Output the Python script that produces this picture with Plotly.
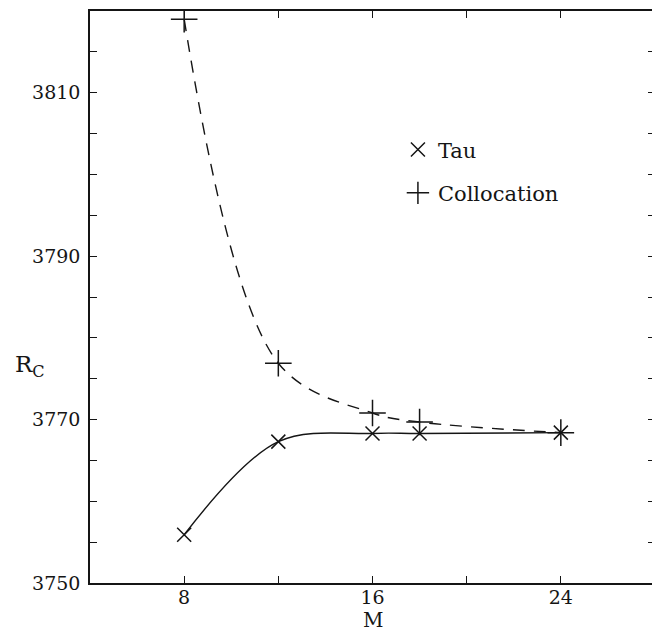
import plotly.graph_objects as go

M = [8, 12, 16, 18, 24]
tau = [3755.9, 3767.3, 3768.3, 3768.3, 3768.4]
colloc = [3819.0, 3776.9, 3770.8, 3769.7, 3768.4]

x_ticks = [8, 16, 24]
x_labels = ["8", "16", "24"]
y_ticks = [3750, 3770, 3790, 3810]
y_labels = ["3750", "3770", "3790", "3810"]

FONT = "DejaVu Serif"
INK = "#151515"

fig = go.Figure()
fig.add_trace(go.Scatter(x=M, y=tau, mode="lines", line=dict(color=INK, width=1.4, shape="spline", smoothing=1.0),
                         showlegend=False, hoverinfo="skip"))
fig.add_trace(go.Scatter(x=M, y=colloc, mode="lines", line=dict(color=INK, width=1.4, dash="12px,9px", shape="spline", smoothing=1.0),
                         showlegend=False, hoverinfo="skip"))
fig.add_trace(go.Scatter(x=M, y=tau, mode="markers", name="Tau", legendgroup="a",
                         marker=dict(symbol="x-thin", size=14, line=dict(color=INK, width=1.5))))
fig.add_trace(go.Scatter(x=M, y=colloc, mode="markers", name="Collocation", legendgroup="b",
                         marker=dict(symbol="cross-thin", size=19, line=dict(color=INK, width=1.5))))

axis_common = dict(showgrid=False, zeroline=False, showline=True, linecolor=INK, linewidth=1.5,
                   mirror="ticks", ticks="inside", ticklen=7, tickwidth=1.2, tickcolor=INK,
                   automargin=False, tickfont=dict(family=FONT, size=19, color=INK))

fig.update_xaxes(range=[4, 28], tickvals=x_ticks, ticktext=x_labels, ticklabelstandoff=-4,
                 minor=dict(tick0=4, dtick=4, ticks="inside", ticklen=7, tickwidth=1.2, tickcolor=INK, showgrid=False),
                 **axis_common)
fig.update_yaxes(range=[3750, 3820], tickvals=y_ticks, ticktext=y_labels, ticklabelstandoff=4,
                 minor=dict(tick0=3750, dtick=5, ticks="inside", ticklen=7, tickwidth=1.2, tickcolor=INK, showgrid=False),
                 **axis_common)

fig.add_annotation(xref="paper", yref="paper", x=-0.107, y=0.38, xanchor="center", yanchor="middle",
                   text="R<sub>C</sub>", showarrow=False, font=dict(family=FONT, size=23, color=INK))
fig.add_annotation(xref="paper", yref="paper", x=0.50, y=-0.041, xanchor="center", yanchor="top",
                   text="M", showarrow=False, font=dict(family=FONT, size=20, color=INK))

# The page body has an 8px default margin, so the figure is sized/offset to compensate.
fig.update_layout(
    width=652, height=625,
    margin=dict(l=82, r=5, t=3, b=50),
    paper_bgcolor="white", plot_bgcolor="white",
    legend=dict(x=0.545, y=0.793, xanchor="left", yanchor="top", bgcolor="rgba(0,0,0,0)",
                font=dict(family=FONT, size=21, color=INK), tracegroupgap=13, itemwidth=30,
                traceorder="grouped"),
    font=dict(family=FONT, color=INK),
)

fig.write_html("out.html")
